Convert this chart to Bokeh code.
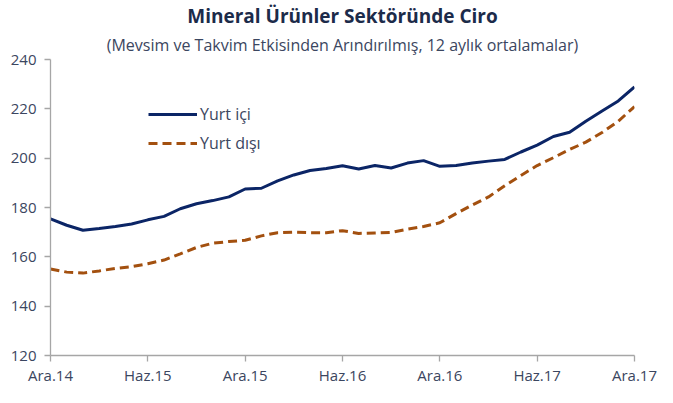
from bokeh.plotting import figure
from bokeh.models import (ColumnDataSource, FixedTicker, Range1d, Legend, LegendItem, Title)
from bokeh.embed import file_html
from bokeh.resources import INLINE

# ---- data ----
tick_labels = ["Ara.14", "Haz.15", "Ara.15", "Haz.16", "Ara.16", "Haz.17", "Ara.17"]
months = list(range(37))
yurt_ici = [175.4, 172.8, 170.8, 171.5, 172.3, 173.3, 175.0, 176.4, 179.5, 181.5,
            182.8, 184.3, 187.5, 187.8, 190.8, 193.2, 195.0, 195.8, 196.9, 195.6,
            197.0, 196.0, 198.0, 199.0, 196.7, 197.0, 198.0, 198.8, 199.5, 202.5,
            205.3, 208.8, 210.5, 215.0, 219.1, 223.2, 228.9]
yurt_disi = [155.1, 153.8, 153.4, 154.3, 155.3, 156.0, 157.2, 158.7, 161.2, 163.8,
             165.5, 166.2, 166.7, 168.5, 169.8, 170.0, 169.8, 169.8, 170.6, 169.5,
             169.7, 169.9, 171.2, 172.3, 173.8, 177.5, 181.0, 184.3, 188.8, 193.0,
             197.0, 200.2, 203.5, 206.5, 210.4, 215.0, 220.9]
series_names = ["Yurt içi", "Yurt dışı"]
title_text = "Mineral Ürünler Sektöründe Ciro"
subtitle_text = "(Mevsim ve Takvim Etkisinden Arındırılmış, 12 aylık ortalamalar)"

src = ColumnDataSource(dict(x=months, ic=yurt_ici, dis=yurt_disi))

FONT = "Open Sans"
TXT = "#3b4660"

p = figure(width=657, height=387, output_backend="svg", toolbar_location=None,
           title=None,
           x_range=Range1d(0, 36), y_range=Range1d(120, 240),
           min_border_left=50, min_border_right=23, min_border_top=59, min_border_bottom=30)
p.outline_line_color = None
p.xgrid.visible = False
p.ygrid.visible = False
p.background_fill_color = "white"
p.border_fill_color = "white"

r1 = p.line("x", "ic", source=src, line_color="#0b2566", line_width=3)
r2 = p.line("x", "dis", source=src, line_color="#a3500f", line_width=3, line_dash="9 5")

# axes
p.xaxis.ticker = FixedTicker(ticks=list(range(0, 37, 6)))
p.xaxis.major_label_overrides = {i * 6: lab for i, lab in enumerate(tick_labels)}
p.yaxis.ticker = FixedTicker(ticks=[120, 140, 160, 180, 200, 220, 240])
for ax in (p.xaxis, p.yaxis):
    ax.axis_line_color = "#a6a6a6"
    ax.axis_line_width = 1.3
    ax.major_tick_line_color = "#a6a6a6"
    ax.major_tick_line_width = 1.3
    ax.major_tick_in = 0
    ax.major_tick_out = 6
    ax.minor_tick_line_color = None
    ax.major_label_text_font = FONT
    ax.major_label_text_color = TXT
p.yaxis.major_label_text_font_size = "15px"
p.xaxis.major_label_text_font_size = "15px"
p.yaxis.major_label_standoff = 8
p.xaxis.major_label_standoff = 3

legend = Legend(items=[LegendItem(label=series_names[0], renderers=[r1]),
                       LegendItem(label=series_names[1], renderers=[r2])],
                location=(98, 201), orientation="vertical",
                glyph_width=49, glyph_height=20, spacing=7, padding=0, margin=0,
                label_standoff=3, label_text_font=FONT, label_text_font_size="16px",
                label_text_color=TXT, background_fill_alpha=0, border_line_color=None)
p.add_layout(legend)

p.add_layout(Title(text=subtitle_text, align="center", offset=-6, standoff=7,
                   text_font=FONT, text_font_size="16px", text_font_style="normal",
                   text_color=TXT), "above")
p.add_layout(Title(text=title_text, align="center", offset=-6, standoff=0,
                   text_font=FONT, text_font_size="19px", text_font_style="bold",
                   text_color="#1c2b4a"), "above")

open("out.html", "w").write(file_html(p, INLINE))
